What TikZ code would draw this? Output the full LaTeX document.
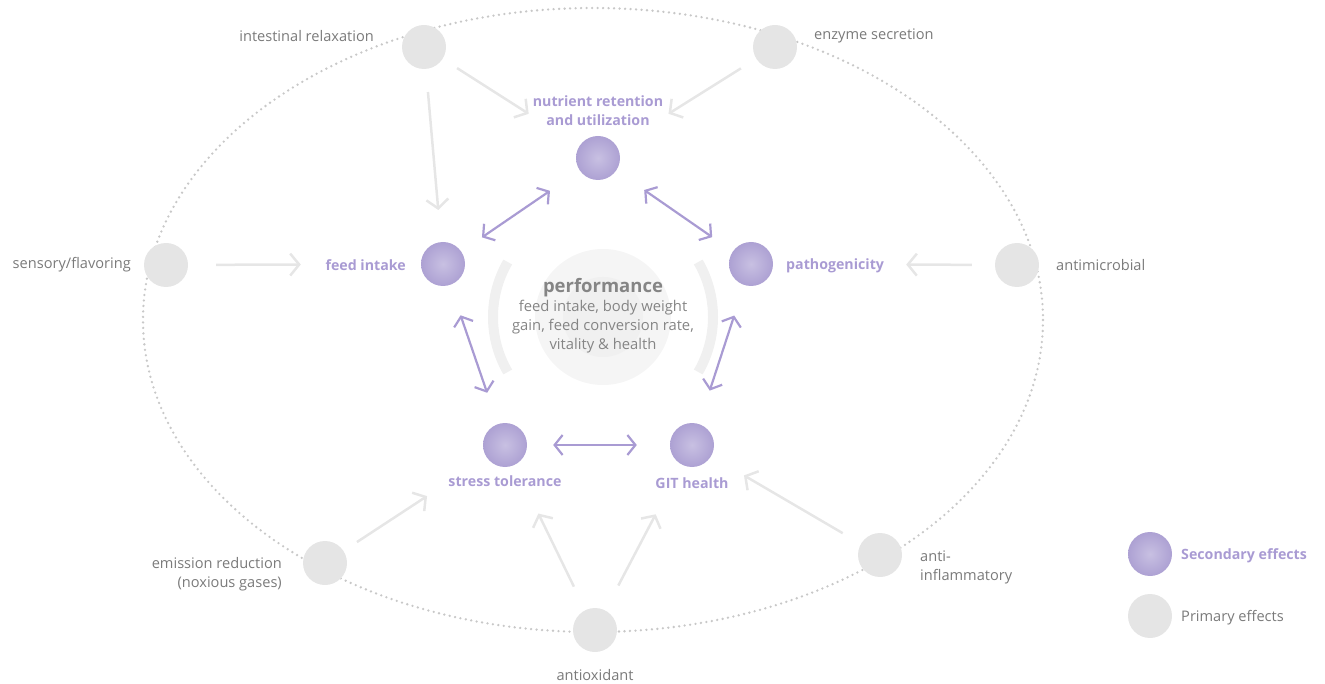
\documentclass[tikz,border=0pt]{standalone}
\usepackage{fontspec}
\setmainfont{Open Sans}
\usetikzlibrary{arrows.meta}

\definecolor{lilac}{HTML}{A99BD3}
\definecolor{lilacdark}{HTML}{ADA1D3}
\definecolor{lilaclight}{HTML}{C8C0E2}
\definecolor{greyfill}{HTML}{E5E5E5}
\definecolor{greyline}{HTML}{E6E6E6}
\definecolor{greytext}{HTML}{7A7A7A}
\definecolor{greydot}{HTML}{C8C8C8}

\tikzset{
  prim/.style={circle,fill=greyfill,minimum size=44pt,inner sep=0pt},
  sec/.style={circle,inner color=lilaclight,outer color=lilacdark,minimum size=44pt,inner sep=0pt},
  primlbl/.style={text=greytext,font=\fontsize{14.6}{19}\selectfont,inner sep=0pt},
  seclbl/.style={text=lilac,font=\fontsize{14.2}{19}\selectfont\bfseries,inner sep=0pt},
  primarrow/.style={draw=greyline,line width=2.5pt,-{Straight Barb[length=9pt,width=22pt,line width=2.5pt]}},
  secarrow/.style={draw=lilac,line width=2.2pt,{Straight Barb[length=8pt,width=20pt,line width=2.2pt]}-{Straight Barb[length=8pt,width=20pt,line width=2.2pt]}}
}

\begin{document}
\begin{tikzpicture}[x=1pt,y=1pt,yscale=-1,xscale=1]

\useasboundingbox (0,0) rectangle (1325,684);

% outer ring
\draw [greydot,line width=2.6pt,line cap=round,dash pattern=on 0pt off 5.5pt] (593,320) ellipse (450 and 312);

% performance centre
\fill [fill=black!4] (603,317) circle (68);
\fill [fill=black!6] (603,317) circle (40);
\draw [black!6,line width=10pt] (603,317) ++(150:110) arc (150:210:110);
\draw [black!6,line width=10pt] (603,317) ++(-30:110) arc (-30:30:110);
\node (perf) at (603,288) [text=black!48,font=\fontsize{18.5}{22}\selectfont\bfseries] {performance};
\node (perftxt) at (603,327) [text=black!48,font=\fontsize{14.8}{19}\selectfont,align=center] {feed intake, body weight\\gain, feed conversion rate,\\vitality \& health};

% secondary effects
\node [sec] (nutr) at (598,158) {};
\node [sec] (feed) at (443,264) {};
\node [sec] (path) at (751,264) {};
\node [sec] (stress) at (505,445) {};
\node [sec] (git) at (692,445) {};

\node [seclbl,align=center] (nutr-lbl) at (598,111) {nutrient retention\\and utilization};
\node [seclbl,anchor=east] (feed-lbl) at (406,265) {feed intake};
\node [seclbl,anchor=west] (path-lbl) at (786,266) {pathogenicity};
\node [seclbl] (stress-lbl) at (505,481) {stress tolerance};
\node [seclbl] (git-lbl) at (692,483) {GIT health};

% primary effects
\node [prim] (relax) at (424,47) {};
\node [prim] (enzyme) at (775,47) {};
\node [prim] (sensory) at (166,265) {};
\node [prim] (antimic) at (1017,265) {};
\node [prim] (emission) at (325,563) {};
\node [prim] (antiox) at (595,630) {};
\node [prim] (inflam) at (880,555) {};

\node [primlbl,anchor=east] (relax-lbl) at (374,36) {intestinal relaxation};
\node [primlbl,anchor=west] (enzyme-lbl) at (814,36) {enzyme secretion};
\node [primlbl,anchor=east] (sensory-lbl) at (131,265) {sensory/flavoring};
\node [primlbl,anchor=west] (antimic-lbl) at (1056,265) {antimicrobial};
\node [primlbl,anchor=east,align=right] (emission-lbl) at (282,574) {emission reduction\\(noxious gases)};
\node [primlbl] (antiox-lbl) at (595,675) {antioxidant};
\node [primlbl,anchor=west,align=left] (inflam-lbl) at (920,567) {anti-\\inflammatory};

% primary arrows
\draw [primarrow,shorten <=17pt,shorten >=60pt] (relax) -- (nutr);
\draw [primarrow,shorten <=23pt,shorten >=32pt] (relax) -- (feed);
\draw [primarrow,shorten <=18pt,shorten >=61pt] (enzyme) -- (nutr);
\draw [primarrow,shorten <=28pt,shorten >=120pt] (sensory) -- (feed);
\draw [primarrow,shorten <=23pt,shorten >=133pt] (antimic) -- (path);
\draw [primarrow,shorten <=16pt,shorten >=71pt] (emission) -- (stress);
\draw [primarrow,shorten <=26pt,shorten >=54pt] (antiox) -- (stress);
\draw [primarrow,shorten <=28pt,shorten >=56pt] (antiox) -- (git);
\draw [primarrow,shorten <=21pt,shorten >=38pt] (inflam) -- (git);

% secondary arrows
\draw [secarrow,shorten <=25pt,shorten >=36pt] (feed) -- (nutr);
\draw [secarrow,shorten <=34pt,shorten >=25pt] (nutr) -- (path);
\draw [secarrow,shorten <=32pt,shorten >=33pt] (feed) -- (stress);
\draw [secarrow,shorten <=32pt,shorten >=35pt] (path) -- (git);
\draw [secarrow,shorten <=26pt,shorten >=33pt] (stress) -- (git);

% legend
\node [sec] (key-sec) at (1150,554) {};
\node [seclbl,anchor=west] (key-sec-lbl) at (1181,556) {Secondary effects};
\node [prim] (key-prim) at (1150,616) {};
\node [primlbl,anchor=west] (key-prim-lbl) at (1181,618) {Primary effects};

\end{tikzpicture}
\end{document}
